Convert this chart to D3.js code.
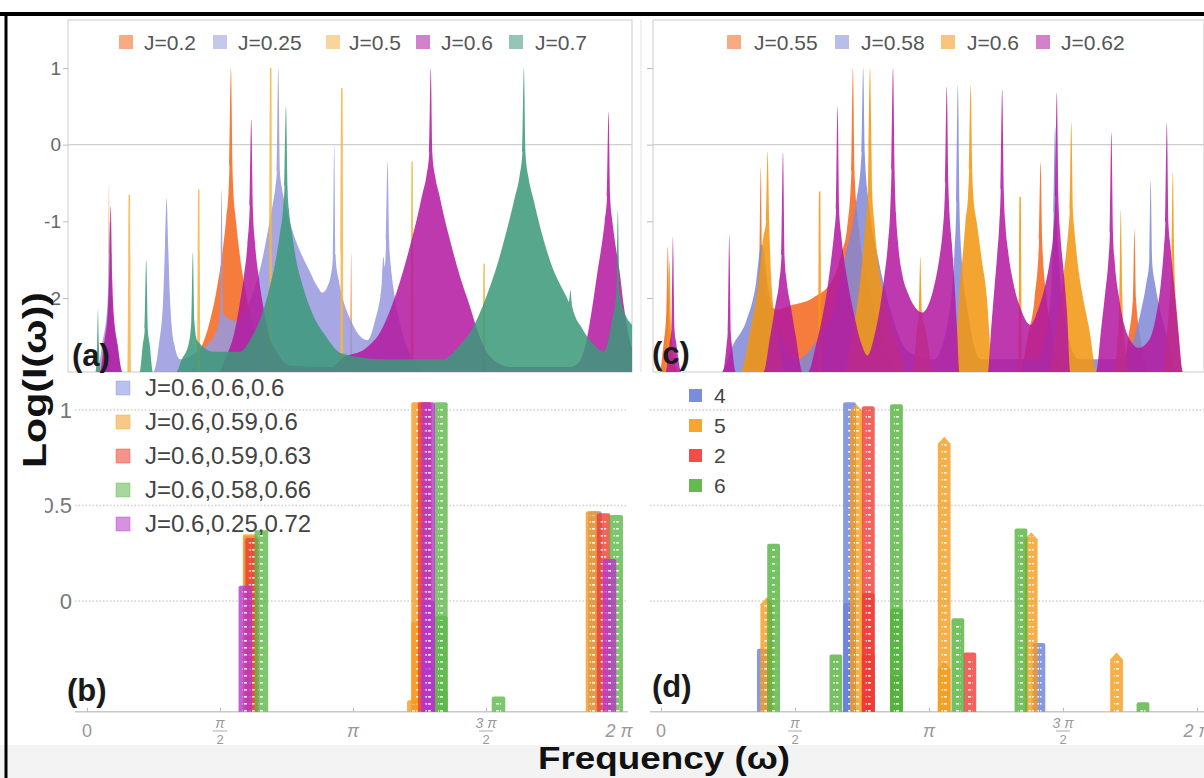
<!DOCTYPE html>
<html>
<head>
<meta charset="utf-8">
<script src="https://cdn.jsdelivr.net/npm/d3@7"></script>
<style>
  body { margin: 0; background: #fff; }
  text { font-family: "Liberation Sans", Arial, sans-serif; }
</style>
</head>
<body>
<div id="chart"></div>
<script>
// ---- data: spectra as [omega, log I] points ----
var legendA = ["J=0.2", "J=0.25", "J=0.5", "J=0.6", "J=0.7"];
var legendC = ["J=0.55", "J=0.58", "J=0.6", "J=0.62"];
var legendB = ["J=0.6,0.6,0.6", "J=0.6,0.59,0.6", "J=0.6,0.59,0.63", "J=0.6,0.58,0.66", "J=0.6,0.25,0.72"];
var legendD = ["4", "5", "2", "6"];

var specA_02 = [[-0.25,-2.97],[0.24,-2.97],[0.252,-2.4],[0.26,-0.5],[0.268,-2.4],[0.28,-2.97],
  [1.2,-2.97],[1.33,-2.7],[1.44,-2.35],[1.53,-1.9],[1.6,-1.4],[1.645,-0.95],[1.672,-0.6],[1.682,-0.28],[1.70,1.0],[1.718,-0.28],[1.728,-0.6],
  [1.755,-0.95],[1.8,-1.4],[1.87,-1.9],[1.96,-2.35],[2.07,-2.7],[2.2,-2.97],
  [3.10,-2.97],[3.112,-2.4],[3.12,-1.4],[3.128,-2.4],[3.14,-2.97],[6.5,-2.97]];
var specA_025 = [[-0.25,-2.97],[0.12,-2.97],[0.18,-2.6],[0.24,-2.1],[0.252,-1.8],[0.27,-1.0],[0.288,-1.8],[0.30,-2.1],[0.36,-2.6],[0.42,-2.97],
  [0.78,-2.97],[0.85,-2.6],[0.9,-2.0],[0.922,-1.3],[0.94,-0.7],[0.958,-1.3],[0.98,-2.0],[1.03,-2.6],[1.1,-2.8],[1.3,-2.7],[1.5,-2.5],[1.572,-2.2],[1.59,-0.58],[1.608,-2.2],
  [1.75,-2.3],[1.9,-2.1],[2.0,-1.8],[2.08,-1.45],[2.14,-1.1],[2.19,-0.8],[2.225,-0.55],[2.242,-0.35],[2.26,1.0],[2.278,-0.35],[2.3,-0.55],[2.35,-0.8],
  [2.42,-1.1],[2.52,-1.4],[2.63,-1.65],[2.72,-1.85],[2.78,-1.93],[2.84,-1.85],[2.88,-1.7],[2.902,-1.5],[2.92,0.0],[2.938,-1.5],[2.97,-1.75],[3.02,-2.0],
  [3.12,-2.3],[3.21,-2.48],[3.31,-2.55],[3.40,-2.3],[3.482,-1.8],[3.50,-1.46],[3.518,-1.6],[3.532,-1.25],
  [3.55,-0.22],[3.568,-1.25],[3.59,-1.6],[3.63,-1.95],[3.68,-2.25],[3.75,-2.55],[3.85,-2.8],[4.0,-2.97],[6.5,-2.97]];
var specA_05 = [[-0.25,-2.97],[0.48,-2.97],[0.492,-0.65],[0.508,-0.65],[0.52,-2.97],
  [1.30,-2.97],[1.312,-0.58],[1.328,-0.58],[1.34,-2.97],
  [2.15,-2.97],[2.162,1.0],[2.178,1.0],[2.19,-2.97],
  [2.99,-2.97],[3.002,0.74],[3.018,0.74],[3.03,-2.97],
  [3.82,-2.97],[3.832,-0.22],[3.848,-0.22],[3.86,-2.97],
  [4.67,-2.97],[4.682,-1.55],[4.698,-1.55],[4.71,-2.97],[6.5,-2.97]];
var specA_06 = [[-0.25,-2.97],[0.15,-2.97],[0.2,-2.6],[0.25,-2.1],[0.262,-1.75],[0.28,-0.8],[0.298,-1.75],[0.31,-2.1],[0.36,-2.6],[0.42,-2.97],
  [1.55,-2.97],[1.65,-2.75],[1.74,-2.45],[1.8,-2.1],[1.855,-1.7],[1.895,-1.3],[1.922,-0.8],[1.94,0.33],[1.958,-0.8],[1.985,-1.3],[2.025,-1.7],
  [2.08,-2.1],[2.14,-2.45],[2.25,-2.72],[2.4,-2.88],[2.9,-2.9],[3.0,-2.8],[3.3,-2.65],[3.46,-2.45],[3.6,-2.1],[3.72,-1.7],[3.82,-1.3],[3.9,-0.95],
  [3.96,-0.65],[4.01,-0.4],[4.042,-0.1],[4.06,1.0],[4.078,-0.1],[4.11,-0.4],[4.16,-0.65],[4.22,-0.95],[4.3,-1.3],[4.4,-1.7],[4.52,-2.1],
  [4.62,-2.45],[4.75,-2.75],[5.0,-2.9],[5.7,-2.9],[5.8,-2.85],[5.9,-2.55],[5.97,-2.1],[6.03,-1.65],[6.08,-1.3],[6.115,-1.0],[6.142,-0.68],[6.16,0.43],
  [6.178,-0.68],[6.205,-1.0],[6.24,-1.3],[6.29,-1.65],[6.34,-2.1],[6.41,-2.55],[6.5,-2.8]];
var specA_07 = [[-0.25,-2.97],[0.1,-2.97],[0.12,-2.6],[0.13,-2.15],[0.14,-2.6],[0.16,-2.97],
  [0.62,-2.97],[0.66,-2.6],[0.682,-2.4],[0.70,-1.5],[0.718,-2.4],[0.74,-2.6],[0.78,-2.97],
  [1.05,-2.97],[1.12,-2.8],[1.2,-2.6],[1.232,-2.3],[1.25,-1.4],[1.268,-2.3],[1.3,-2.55],[1.5,-2.7],[1.8,-2.7],[1.95,-2.5],[2.07,-2.2],[2.16,-1.85],
  [2.23,-1.5],[2.28,-1.15],[2.315,-0.85],[2.332,-0.55],[2.35,0.5],[2.368,-0.55],[2.385,-0.85],[2.42,-1.15],[2.47,-1.5],[2.55,-1.85],[2.66,-2.2],
  [2.82,-2.5],[3.0,-2.72],[3.5,-2.8],[4.2,-2.8],[4.4,-2.62],[4.55,-2.4],[4.71,-2.0],[4.85,-1.55],[4.95,-1.15],[5.05,-0.7],[5.11,-0.4],
  [5.142,-0.1],[5.16,1.0],[5.178,-0.1],[5.21,-0.4],[5.27,-0.7],[5.37,-1.15],[5.48,-1.55],[5.67,-2.0],[5.692,-2.05],[5.71,-1.9],[5.728,-2.1],
  [5.85,-2.4],[5.98,-2.6],[6.1,-2.7],[6.2,-2.3],[6.252,-1.9],[6.27,-0.85],[6.288,-1.9],[6.35,-2.2],[6.5,-2.4]];

var specC_055 = [[-0.25,-2.97],[-0.02,-2.97],[0.03,-2.6],[0.062,-2.2],[0.08,-1.33],[0.098,-2.2],[0.13,-2.6],[0.2,-2.97],
  [0.95,-2.97],[1.05,-2.5],[1.12,-2.0],[1.152,-1.5],[1.17,-0.29],[1.188,-1.5],[1.24,-2.0],[1.36,-2.15],[1.51,-2.1],[1.78,-2.0],[2.02,-1.75],[2.12,-1.4],[2.18,-1.1],
  [2.232,-0.35],[2.25,1.0],[2.268,-0.35],[2.32,-1.1],[2.45,-1.9],[2.6,-2.5],[2.8,-2.97],
  [4.2,-2.97],[4.3,-2.5],[4.38,-2.0],[4.432,-1.24],[4.45,-0.23],[4.468,-1.24],[4.52,-2.0],[4.6,-2.5],[4.7,-2.97],
  [5.4,-2.97],[5.48,-2.5],[5.532,-2.0],[5.55,-1.11],[5.568,-2.0],[5.62,-2.5],[5.7,-2.97],[6.6,-2.97]];
var specC_058 = [[-0.25,-2.97],[0.7,-2.97],[0.85,-2.6],[1.0,-2.3],[1.1,-1.9],[1.18,-1.3],[1.26,-1.9],[1.4,-2.5],[1.6,-2.8],[1.8,-2.6],[2.0,-2.2],[2.15,-1.5],
  [2.28,-0.8],[2.352,-0.1],[2.37,1.0],[2.388,-0.1],[2.44,-0.8],[2.55,-1.5],[2.7,-2.2],[2.9,-2.7],[3.2,-2.8],[3.38,-2.2],[3.44,-1.4],[3.462,-0.76],[3.48,0.78],
  [3.498,-0.76],[3.52,-1.4],[3.6,-2.2],[3.75,-2.8],[4.4,-2.8],[4.55,-2.2],[4.59,-1.4],[4.602,-0.9],[4.62,0.23],[4.638,-0.9],[4.66,-1.4],[4.72,-2.2],[4.9,-2.8],
  [5.4,-2.8],[5.55,-2.5],[5.63,-2.15],[5.69,-1.8],[5.722,-1.54],[5.74,-0.46],[5.758,-1.54],[5.79,-1.8],[5.85,-2.15],[5.93,-2.5],[6.05,-2.97],[6.6,-2.97]];
var specC_06 = [[-0.25,-2.97],[0.03,-2.97],[0.08,-2.4],[0.1,-1.5],[0.12,-2.4],[0.17,-2.97],
  [0.93,-2.97],[1.05,-2.4],[1.13,-1.9],[1.2,-1.2],[1.232,-1.0],[1.25,-0.09],[1.268,-1.0],[1.3,-1.9],[1.36,-2.4],[1.45,-2.97],
  [1.84,-2.97],[1.852,-0.61],[1.868,-0.61],[1.88,-2.97],
  [2.15,-2.97],[2.24,-2.5],[2.31,-2.0],[2.36,-1.5],[2.4,-1.0],[2.425,-0.6],[2.432,-0.1],[2.45,1.0],[2.468,-0.1],[2.475,-0.6],[2.5,-1.0],[2.54,-1.5],
  [2.6,-1.9],[2.68,-2.3],[2.78,-2.65],[2.88,-2.97],
  [2.95,-2.97],[3.0,-2.4],[3.022,-2.2],[3.04,-1.46],[3.058,-2.2],[3.1,-2.4],[3.2,-2.97],
  [3.45,-2.97],[3.47,-2.5],[3.5,-1.9],[3.54,-1.4],[3.57,-1.0],[3.6,-0.65],[3.612,-0.33],[3.63,0.78],[3.648,-0.33],[3.66,-0.65],[3.7,-1.0],
  [3.76,-1.5],[3.82,-2.0],[3.85,-2.5],[3.87,-2.97],
  [4.19,-2.97],[4.202,-0.68],[4.218,-0.68],[4.23,-2.97],
  [4.55,-2.97],[4.63,-2.4],[4.7,-1.85],[4.75,-1.4],[4.78,-1.05],[4.792,-0.85],[4.81,0.29],[4.828,-0.85],[4.845,-1.1],[4.88,-1.5],[4.94,-1.95],
  [5.02,-2.4],[5.11,-2.97],
  [5.3,-2.97],[5.36,-2.4],[5.372,-2.0],[5.39,-0.85],[5.408,-2.0],[5.42,-2.4],[5.5,-2.97],
  [5.88,-2.97],[5.95,-2.2],[5.982,-1.6],[6.0,-0.35],[6.018,-1.6],[6.05,-2.2],[6.12,-2.97],[6.6,-2.97]];
var specC_062 = [[-0.25,-2.97],[0.05,-2.97],[0.1,-2.6],[0.122,-2.4],[0.14,-1.2],[0.158,-2.4],[0.18,-2.6],[0.24,-2.97],
  [0.72,-2.97],[0.77,-2.6],[0.782,-2.45],[0.80,-1.17],[0.818,-2.45],[0.83,-2.6],[0.88,-2.97],
  [1.2,-2.97],[1.28,-2.5],[1.34,-2.1],[1.385,-1.8],[1.412,-1.46],[1.43,-0.1],[1.448,-1.46],[1.475,-1.8],[1.52,-2.1],[1.58,-2.5],[1.66,-2.97],
  [1.72,-2.97],[1.82,-2.6],[1.9,-2.2],[1.96,-1.8],[2.0,-1.45],[2.03,-1.15],[2.052,-0.85],[2.07,0.5],[2.088,-0.85],[2.11,-1.15],[2.14,-1.45],
  [2.19,-1.8],[2.26,-2.2],[2.35,-2.6],[2.42,-2.75],[2.5,-2.5],[2.57,-2.1],[2.62,-1.7],[2.66,-1.3],[2.685,-0.9],[2.702,-0.33],[2.72,1.0],
  [2.738,-0.33],[2.755,-0.9],[2.78,-1.3],[2.83,-1.7],[2.9,-1.95],[3.0,-2.15],[3.06,-2.19],[3.13,-2.1],[3.2,-1.85],[3.26,-1.5],[3.3,-1.15],
  [3.322,-0.8],[3.332,-0.5],[3.35,0.76],[3.368,-0.5],[3.38,-0.85],[3.41,-1.3],[3.44,-1.8],[3.47,-2.4],[3.5,-2.97],
  [3.83,-2.97],[3.87,-2.4],[3.91,-1.85],[3.94,-1.45],[3.965,-1.05],[3.982,-0.59],[4.0,0.72],[4.018,-0.59],[4.035,-1.0],[4.07,-1.4],[4.13,-1.8],
  [4.22,-2.15],[4.33,-2.35],[4.42,-2.15],[4.5,-1.85],[4.56,-1.5],[4.6,-1.15],[4.622,-0.68],[4.64,0.68],[4.658,-0.68],[4.68,-1.15],[4.72,-1.65],
  [4.76,-2.2],[4.8,-2.97],
  [5.1,-2.97],[5.16,-2.4],[5.21,-1.9],[5.245,-1.5],[5.262,-1.15],[5.28,0.16],[5.298,-1.15],[5.32,-1.55],[5.37,-2.0],[5.43,-2.35],[5.5,-2.55],
  [5.6,-2.65],[5.72,-2.55],[5.8,-2.25],[5.86,-1.8],[5.895,-1.35],[5.912,-1.02],[5.93,0.29],[5.948,-1.02],[5.97,-1.3],[6.02,-1.9],[6.07,-2.5],
  [6.12,-2.97],[6.6,-2.97]];

// bars: [omega, top value]
var barsB_1 = [[1.93,0.34],[3.98,1.04],[6.0,0.47]];
var barsB_2 = [[1.92,0.35],[3.91,1.04],[3.91,-0.11],[3.86,-0.52],[5.97,0.47]];
var barsB_3 = [[1.95,0.33],[3.99,1.04],[6.10,0.46]];
var barsB_4 = [[2.06,0.37],[4.18,1.04],[4.18,-0.08],[4.18,-0.47],[4.86,-0.5],[6.25,0.45]];
var barsB_5 = [[1.87,0.08],[4.03,1.04],[4.03,0.0],[4.03,-0.35],[6.17,0.22]];

var barsD_4 = [[1.20,-0.25],[2.21,1.04],[2.21,-0.01],[2.21,-0.36],[4.43,-0.22]];
var barsD_5 = [[1.24,0.02],[2.29,1.03],[3.32,0.86],[3.32,-0.32],[4.34,0.36],[5.34,-0.27]];
var barsD_2 = [[2.43,1.02],[2.43,0.04],[2.43,-0.28],[2.43,-0.5],[3.62,-0.27]];
var barsD_6 = [[1.32,0.30],[2.05,-0.28],[2.76,1.03],[2.76,-0.04],[2.76,-0.39],[3.48,-0.09],[4.22,0.38],[5.65,-0.53]];

var xTickValues = [0, Math.PI / 2, Math.PI, 3 * Math.PI / 2, 2 * Math.PI];
var xTickNum = ["0", "π", "π", "3 π", "2 π"];
var xTickDen = ["", "2", "", "2", ""];
var yTicksTop = [-2, -1, 0, 1];
var yTicksBot = [0, 0.5, 1];

// ---- colours ----
var colA = ["#f3661c", "#9799de", "#f3b548", "#b3189f", "#3b987a"];
var colC = ["#f3661c", "#8088d6", "#f2960f", "#b3189f"];
var colB = ["#8090e0", "#f59a23", "#ef3c2e", "#5cb84a", "#b537c8"];
var colD = ["#6c7fd8", "#f59b1d", "#ef3b36", "#53b23c"];

var W = 1204, H = 778;
var svg = d3.select("#chart").append("svg").attr("width", W).attr("height", H);

var pA = { left: 68, right: 632, top: 20, bottom: 372 };
var pC = { left: 653, right: 1204, top: 20, bottom: 372 };
var pB = { left: 75, right: 628, top: 376, bottom: 712 };
var pD = { left: 650, right: 1204, top: 376, bottom: 712 };

var xL = d3.scaleLinear().domain([0, 2 * Math.PI]).range([87, 619]);
var xR = d3.scaleLinear().domain([0, 2 * Math.PI]).range([661, 1197]);
var yTop = d3.scaleLinear().domain([-2, 1]).range([298, 68]);
var yBot = d3.scaleLinear().domain([0, 1]).range([601, 410]);
var baseTop = -2.97, baseBot = -0.58;

// bottom strip and black frame
svg.append("rect").attr("x", 0).attr("y", 745).attr("width", W).attr("height", H - 745).attr("fill", "#f3f3f3");
svg.append("line").attr("x1", 0).attr("x2", W).attr("y1", 14).attr("y2", 14).attr("stroke", "#000").attr("stroke-width", 4);
svg.append("line").attr("x1", 6).attr("x2", 6).attr("y1", 12).attr("y2", H).attr("stroke", "#000").attr("stroke-width", 3);
// thin separator between the two top panels
svg.append("line").attr("x1", 641).attr("x2", 641).attr("y1", 20).attr("y2", 372).attr("stroke", "#e2e2e2").attr("stroke-width", 1);

var defs = svg.append("defs");
[["clipA", pA], ["clipC", pC], ["clipB", pB], ["clipD", pD]].forEach(function(c) {
  defs.append("clipPath").attr("id", c[0]).append("rect")
    .attr("x", c[1].left).attr("y", c[1].top)
    .attr("width", c[1].right - c[1].left).attr("height", c[1].bottom - c[1].top);
});
var pat = defs.append("pattern").attr("id", "hatch").attr("patternUnits", "userSpaceOnUse")
  .attr("width", 4).attr("height", 7);
pat.append("rect").attr("x", 0).attr("y", 3).attr("width", 3).attr("height", 1.6).attr("fill", "#fff").attr("opacity", 0.85);

// ---- top panels (a) and (c) ----
function framePanel(p) {
  svg.append("rect").attr("x", p.left).attr("y", p.top)
    .attr("width", p.right - p.left).attr("height", p.bottom - p.top)
    .attr("fill", "none").attr("stroke", "#d4d4d4").attr("stroke-width", 1.2);
}
framePanel(pA);
framePanel(pC);

function drawSpectra(p, x, series, colors, clip) {
  svg.append("line").attr("x1", p.left).attr("x2", p.right)
    .attr("y1", yTop(0)).attr("y2", yTop(0)).attr("stroke", "#cfcfcf").attr("stroke-width", 1.3);
  var area = d3.area()
    .curve(d3.curveMonotoneX)
    .x(function(d) { return x(d[0]); })
    .y0(yTop(baseTop))
    .y1(function(d) { return yTop(d[1]); });
  var g = svg.append("g").attr("clip-path", "url(#" + clip + ")");
  series.forEach(function(s, i) {
    g.append("path").datum(s).attr("d", area)
      .attr("fill", colors[i]).attr("fill-opacity", 0.86);
  });
}
drawSpectra(pA, xL, [specA_02, specA_025, specA_05, specA_06, specA_07], colA, "clipA");
drawSpectra(pC, xR, [specC_055, specC_058, specC_06, specC_062], colC, "clipC");

// y axis (a)
var axA = svg.append("g").attr("transform", "translate(" + pA.left + ",0)")
  .call(d3.axisLeft(yTop).tickValues(yTicksTop).tickSize(5).tickFormat(d3.format("d")));
axA.select(".domain").remove();
axA.selectAll("line").attr("stroke", "#bbb");
axA.selectAll("text").attr("fill", "#666").style("font-size", "19px")
  .attr("x", -7).text(function(d) { return d < 0 ? "-" + (-d) : d; });
var axC = svg.append("g").attr("transform", "translate(" + pC.left + ",0)")
  .call(d3.axisLeft(yTop).tickValues(yTicksTop).tickSize(6).tickFormat(""));
axC.select(".domain").remove();
axC.selectAll("line").attr("stroke", "#bbb");

// legends (a) and (c)
var legAx = [[119, 144], [213, 238], [326, 349], [416, 441], [509, 535]];
var legCx = [[727, 754], [835, 861], [941, 967], [1036, 1061]];
function topLegend(labels, pos, colors) {
  labels.forEach(function(l, i) {
    svg.append("rect").attr("x", pos[i][0]).attr("y", 35).attr("width", 14).attr("height", 14)
      .attr("fill", colors[i]).attr("fill-opacity", 0.55);
    svg.append("text").attr("x", pos[i][1]).attr("y", 50).attr("fill", "#555")
      .style("font-size", "21px").text(l);
  });
}
topLegend(legendA, legAx, colA);
topLegend(legendC, legCx, colC);

// ---- bottom panels (b) and (d) ----
function drawBars(p, x, series, colors, clip, bw, pointed) {
  yTicksBot.forEach(function(v) {
    svg.append("line").attr("x1", p.left).attr("x2", p.right)
      .attr("y1", yBot(v)).attr("y2", yBot(v))
      .attr("stroke", "#cfcfcf").attr("stroke-width", 1.3).attr("stroke-dasharray", "1.5,2");
  });
  svg.append("line").attr("x1", p.left).attr("x2", p.right)
    .attr("y1", yBot(baseBot)).attr("y2", yBot(baseBot)).attr("stroke", "#c8c8c8").attr("stroke-width", 1.5);
  var g = svg.append("g").attr("clip-path", "url(#" + clip + ")");
  var w = x(bw) - x(0);
  series.forEach(function(s, i) {
    s.forEach(function(d) {
      var x0 = x(d[0]) - w / 2, x1 = x(d[0]) + w / 2, yt = yBot(d[1]), yb = yBot(baseBot);
      var path;
      if (pointed[i]) {
        path = "M" + x0 + "," + yb + "L" + x0 + "," + (yt + 7) + "L" + (x0 + w / 2) + "," + yt +
          "L" + x1 + "," + (yt + 7) + "L" + x1 + "," + yb + "Z";
      } else {
        path = "M" + x0 + "," + yb + "L" + x0 + "," + (yt + 2) + "Q" + x0 + "," + yt + " " + (x0 + 2) + "," + yt +
          "L" + (x1 - 2) + "," + yt + "Q" + x1 + "," + yt + " " + x1 + "," + (yt + 2) + "L" + x1 + "," + yb + "Z";
      }
      g.append("path").attr("d", path).attr("fill", colors[i]).attr("fill-opacity", 0.8);
      g.append("rect").attr("x", x0 + w * 0.3).attr("y", yt + 4).attr("width", w * 0.4)
        .attr("height", Math.max(0, yb - yt - 4)).attr("fill", "url(#hatch)");
    });
  });
  // x axis ticks and labels
  var ax = svg.append("g").attr("transform", "translate(0," + yBot(baseBot) + ")")
    .call(d3.axisBottom(x).tickValues(xTickValues).tickSizeInner(-4).tickSizeOuter(0).tickFormat(""));
  ax.select(".domain").remove();
  ax.selectAll("line").attr("stroke", "#bbb");
  xTickValues.forEach(function(v, i) {
    var cx = x(v);
    if (xTickDen[i]) {
      svg.append("text").attr("x", cx).attr("y", 728).attr("text-anchor", "middle")
        .attr("fill", "#999").style("font-size", "14px").style("font-style", "italic").text(xTickNum[i]);
      svg.append("line").attr("x1", cx - 7).attr("x2", cx + 7).attr("y1", 731).attr("y2", 731)
        .attr("stroke", "#aaa").attr("stroke-width", 1);
      svg.append("text").attr("x", cx).attr("y", 744).attr("text-anchor", "middle")
        .attr("fill", "#999").style("font-size", "13px").text(xTickDen[i]);
    } else {
      svg.append("text").attr("x", cx).attr("y", 737).attr("text-anchor", "middle")
        .attr("fill", "#999").style("font-size", "18px")
        .style("font-style", xTickNum[i] === "0" ? "normal" : "italic").text(xTickNum[i]);
    }
  });
}
drawBars(pB, xL, [barsB_1, barsB_2, barsB_3, barsB_4, barsB_5], colB, "clipB", 0.16, [false, false, false, false, false]);
drawBars(pD, xR, [barsD_4, barsD_5, barsD_2, barsD_6], colD, "clipD", 0.15, [false, true, false, false]);

// y axis (b)
defs.append("clipPath").attr("id", "clipLblB").append("rect").attr("x", 45).attr("y", 380).attr("width", 35).attr("height", 330);
var axB = svg.append("g").attr("clip-path", "url(#clipLblB)")
  .append("g").attr("transform", "translate(72,0)")
  .call(d3.axisLeft(yBot).tickValues(yTicksBot).tickSize(0).tickFormat(function(d) { return d === 0.5 ? "0.5" : d; }));
axB.select(".domain").remove();
axB.selectAll("text").attr("fill", "#777").style("font-size", "22px").attr("x", 0);

// legends (b) and (d)
legendB.forEach(function(l, i) {
  var cy = 388 + i * 34;
  svg.append("rect").attr("x", 116).attr("y", cy - 7).attr("width", 14).attr("height", 14)
    .attr("fill", colB[i]).attr("fill-opacity", 0.55).attr("stroke", colB[i]).attr("stroke-opacity", 0.4);
  svg.append("text").attr("x", 145).attr("y", cy + 8).attr("fill", "#444")
    .style("font-size", "24px").text(l);
});
legendD.forEach(function(l, i) {
  var cy = 395 + i * 30;
  svg.append("rect").attr("x", 689).attr("y", cy - 6).attr("width", 13).attr("height", 13)
    .attr("fill", colD[i]).attr("fill-opacity", 0.9);
  svg.append("text").attr("x", 714).attr("y", cy + 8).attr("fill", "#444")
    .style("font-size", "21px").text(l);
});

// panel letters
[["(a)", 72, 366], ["(b)", 67, 701], ["(c)", 652, 364], ["(d)", 652, 697]].forEach(function(t) {
  svg.append("text").attr("x", t[1]).attr("y", t[2]).attr("fill", "#1a1a1a")
    .style("font-size", "31px").style("font-weight", "bold").text(t[0]);
});

// axis titles
svg.append("text").attr("transform", "translate(46,380) rotate(-90)").attr("text-anchor", "middle")
  .attr("fill", "#111").style("font-size", "33px").style("font-weight", "bold")
  .attr("textLength", 176).attr("lengthAdjust", "spacingAndGlyphs").text("Log(I(ω))");
svg.append("text").attr("x", 664).attr("y", 769).attr("text-anchor", "middle")
  .attr("fill", "#111").style("font-size", "32px").style("font-weight", "bold")
  .attr("textLength", 252).attr("lengthAdjust", "spacingAndGlyphs").text("Frequency (ω)");
</script>
</body>
</html>
